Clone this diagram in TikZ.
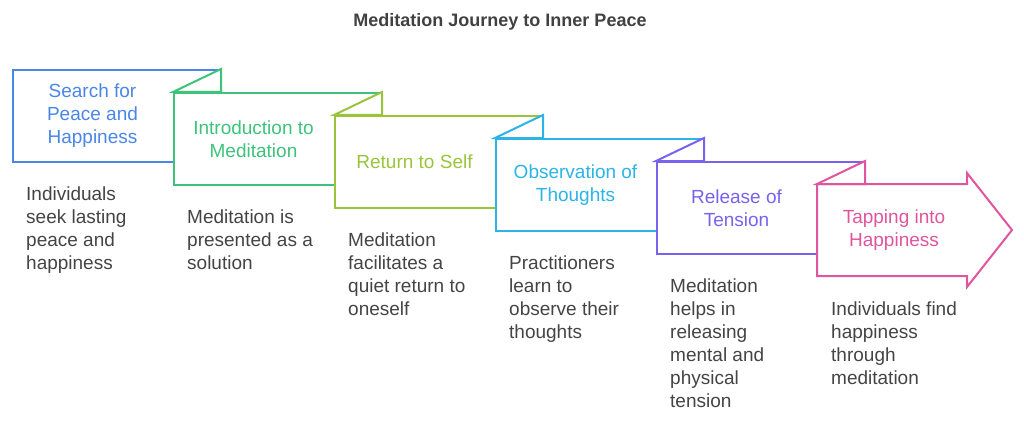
\documentclass[tikz,border=0pt]{standalone}
\usepackage{fontspec}
\setmainfont{Liberation Sans}
\usepackage{tikz}
\usetikzlibrary{positioning,calc}
\definecolor{stepblue}{HTML}{4A86E8}
\definecolor{stepgreen}{HTML}{3EC47A}
\definecolor{steplime}{HTML}{9AC43C}
\definecolor{stepcyan}{HTML}{2DB4E6}
\definecolor{steppurple}{HTML}{7A62F0}
\definecolor{steppink}{HTML}{E0569E}
\definecolor{desctext}{HTML}{444444}
\tikzstyle{card}=[%
      rectangle, line width=2pt, fill=white, anchor=north west,
      minimum width=207pt, minimum height=92pt, inner sep=0pt
]
\tikzstyle{fold}=[%
      line width=2pt, fill=white, line join=miter
]
\tikzstyle{stitle}=[%
      font=\fontsize{19}{23}\selectfont, align=center, inner sep=0pt
]
\tikzstyle{desc}=[%
      font=\fontsize{19}{23}\selectfont, align=left, text=desctext, inner sep=0pt
]

\begin{document}
\begin{tikzpicture}[x=1pt, y=1pt]
    \useasboundingbox (0,0) rectangle (1024,-425);
    \node[font=\bfseries\fontsize{18}{22}\selectfont, text=desctext!95!black] (title) at (500,-22) {Meditation Journey to Inner Peace};

    \node[card, draw=stepblue]   (s1) at (12,-69)  {};
    \node[card, draw=stepgreen]  (s2) at (173,-92) {};
    \draw[fold, draw=stepgreen]  (s2.north west) -- (s1.north east) -- (s1.north east |- s2.north) -- cycle;
    \node[card, draw=steplime]   (s3) at (334,-115) {};
    \draw[fold, draw=steplime]   (s3.north west) -- (s2.north east) -- (s2.north east |- s3.north) -- cycle;
    \node[card, draw=stepcyan]   (s4) at (495,-138) {};
    \draw[fold, draw=stepcyan]   (s4.north west) -- (s3.north east) -- (s3.north east |- s4.north) -- cycle;
    \node[card, draw=steppurple] (s5) at (656,-161) {};
    \draw[fold, draw=steppurple] (s5.north west) -- (s4.north east) -- (s4.north east |- s5.north) -- cycle;
    \coordinate (s6) at (817,-184);
    \draw[fold, draw=steppink] (s6) -- ++(150,0) -- ++(0,11) -- ++(45,-57) -- ++(-45,-57) -- ++(0,11) -- ++(-150,0) -- cycle;
    \draw[fold, draw=steppink]   (s6) -- (s5.north east) -- (s5.north east |- s6) -- cycle;

    \node[stitle, text=stepblue]   (t1) at ($(s1.west)!0.5!(s2.west |- s1.west)$) {Search for\\Peace and\\Happiness};
    \node[stitle, text=stepgreen]  (t2) at ($(s2.west)!0.5!(s3.west |- s2.west)$) {Introduction to\\Meditation};
    \node[stitle, text=steplime]   (t3) at ($(s3.west)!0.5!(s4.west |- s3.west)$) {Return to Self};
    \node[stitle, text=stepcyan]   (t4) at ($(s4.west)!0.5!(s5.west |- s4.west)$) {Observation of\\Thoughts};
    \node[stitle, text=steppurple] (t5) at ($(s5.west)!0.5!(s6 |- s5.west)$) {Release of\\Tension};
    \node[stitle, text=steppink]   (t6) at ($(s6)+(77,-46)$) {Tapping into\\Happiness};

    \node[desc] (d1) [below right = 24pt and 14pt of s1.south west] {Individuals\\seek lasting\\peace and\\happiness};
    \node[desc] (d2) [below right = 24pt and 14pt of s2.south west] {Meditation is\\presented as a\\solution};
    \node[desc] (d3) [below right = 24pt and 14pt of s3.south west] {Meditation\\facilitates a\\quiet return to\\oneself};
    \node[desc] (d4) [below right = 24pt and 14pt of s4.south west] {Practitioners\\learn to\\observe their\\thoughts};
    \node[desc] (d5) [below right = 24pt and 14pt of s5.south west] {Meditation\\helps in\\releasing\\mental and\\physical\\tension};
    \node[desc] (d6) [below right = 24pt and 14pt of s6 |- s5.south west, yshift=-23pt] {Individuals find\\happiness\\through\\meditation};
\end{tikzpicture}
\end{document}
